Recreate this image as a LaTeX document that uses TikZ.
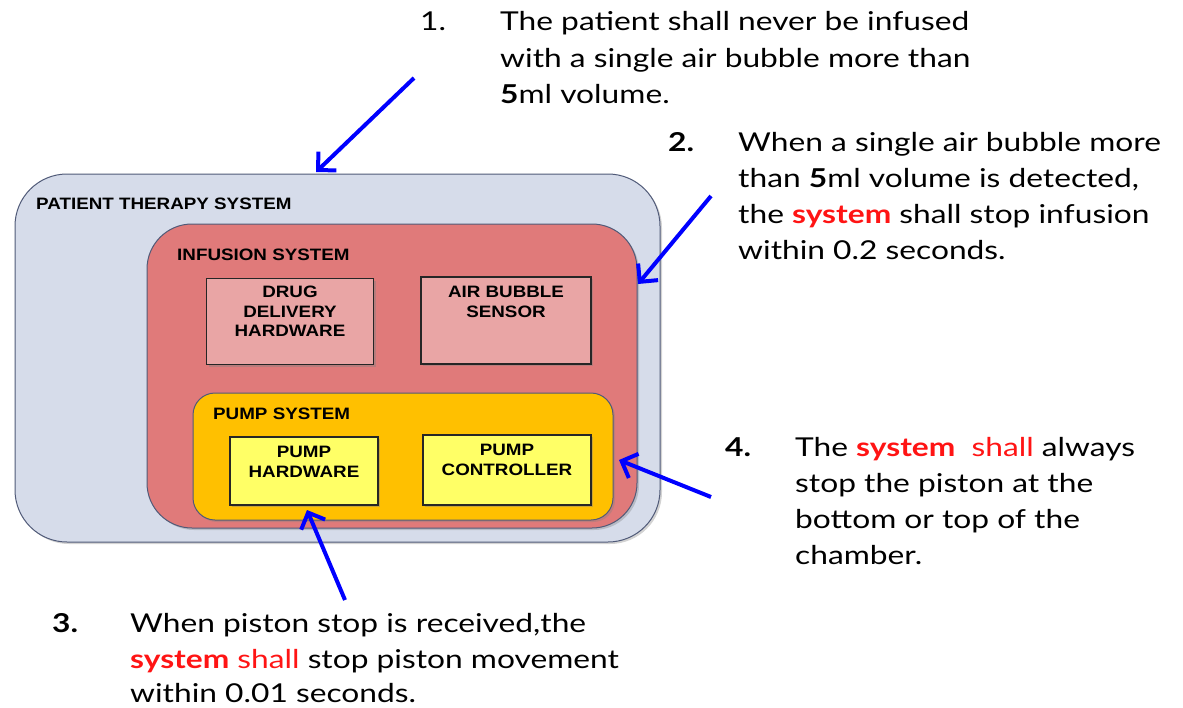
\documentclass[tikz,border=0pt]{standalone}
\usepackage{fontspec}
\setmainfont[FakeStretch=1.22]{Lato}
\newfontfamily\boxfont[FakeStretch=1.14]{Liberation Sans}
\usetikzlibrary{arrows.meta,shadows}
\definecolor{ptsfill}{RGB}{214,220,234}
\definecolor{ptsdraw}{RGB}{80,90,120}
\definecolor{infill}{RGB}{224,122,122}
\definecolor{pinkbox}{RGB}{233,165,165}
\definecolor{pumpfill}{RGB}{255,192,0}
\definecolor{yellowbox}{RGB}{255,255,102}
\definecolor{reqred}{RGB}{255,20,20}
\definecolor{arrowblue}{RGB}{0,0,255}
\begin{document}
\begin{tikzpicture}[x=1pt,y=-1pt,
  container/.style={draw=ptsdraw,line width=1pt,inner sep=0pt,
    drop shadow={shadow xshift=2pt,shadow yshift=-2pt,opacity=0.35}},
  subbox/.style={draw=black!85,line width=1.4pt,inner sep=0pt,
    drop shadow={shadow xshift=2pt,shadow yshift=-2pt,opacity=0.4}},
  boxlabel/.style={font=\boxfont\bfseries\fontsize{16.5}{19.5}\selectfont,inner sep=0pt,align=center,anchor=north},
  grouplabel/.style={font=\boxfont\bfseries\fontsize{16.5}{19.5}\selectfont,inner sep=0pt,anchor=base west},
  req/.style={font=\fontsize{26}{36}\selectfont,inner sep=0pt,anchor=base west},
  reqarrow/.style={draw=arrowblue,line width=4pt,-{Straight Barb[length=13pt,width=26pt,line width=4pt]}}]
\useasboundingbox (0,0) rectangle (1183,707);
% containers
\node[container,fill=ptsfill,rounded corners=52pt,minimum width=645pt,minimum height=368pt] (pts) at (337.5,358) {};
\node[container,fill=infill,rounded corners=45pt,minimum width=490pt,minimum height=304pt] (inf) at (392,376) {};
\node[container,fill=pumpfill,rounded corners=22pt,minimum width=420pt,minimum height=127pt] (pump) at (403,456.5) {};
% boxes
\node[subbox,fill=pinkbox,minimum width=167pt,minimum height=86pt] (drug) at (290,321.5) {};
\node[subbox,fill=pinkbox,minimum width=170pt,minimum height=87pt] (abs) at (506,320.5) {};
\node[subbox,fill=yellowbox,minimum width=148pt,minimum height=68pt] (phw) at (304,471) {};
\node[subbox,fill=yellowbox,minimum width=168pt,minimum height=70pt] (pctl) at (507,470) {};
% labels
\node[grouplabel] (ptsl) at (36,209) {PATIENT THERAPY SYSTEM};
\node[grouplabel] (infl) at (177,260) {INFUSION SYSTEM};
\node[grouplabel] (pumpl) at (213,419) {PUMP SYSTEM};
\node[boxlabel] (drugl) at (290,286) {DRUG\\DELIVERY\\HARDWARE};
\node[boxlabel] (absl) at (506,286) {AIR BUBBLE\\SENSOR};
\node[boxlabel] (phwl) at (304,446) {PUMP\\HARDWARE};
\node[boxlabel] (pctll) at (507,444) {PUMP\\CONTROLLER};
% requirement 1
\node[req] (n1) at (420,30) {1.};
\node[req] (r1a) at (500,30) {The patient shall never be infused};
\node[req] (r1b) at (500,67) {with a single air bubble more than};
\node[req] (r1c) at (500,103) {\textbf{5}ml volume.};
% requirement 2
\node[req] (n2) at (668,151) {\textbf{2.}};
\node[req] (r2a) at (738,151) {When a single air bubble more};
\node[req] (r2b) at (738,187) {than \textbf{5}ml volume is detected,};
\node[req] (r2c) at (738,223) {the \textcolor{reqred}{\textbf{system}} shall stop infusion};
\node[req] (r2d) at (738,259) {within 0.2 seconds.};
% requirement 3
\node[req] (n3) at (52,632) {\textbf{3.}};
\node[req] (r3a) at (130,632) {When piston stop is received,the};
\node[req] (r3b) at (130,668) {\textcolor{reqred}{\textbf{system} shall} stop piston movement};
\node[req] (r3c) at (130,702) {within 0.01 seconds.};
% requirement 4
\node[req] (n4) at (725,456) {\textbf{4.}};
\node[req] (r4a) at (795,456) {The \textcolor{reqred}{\textbf{system}\ \ shall} always};
\node[req] (r4b) at (795,492) {stop the piston at the};
\node[req] (r4c) at (795,528) {bottom or top of the};
\node[req] (r4d) at (795,564) {chamber.};
% arrows
\coordinate (t1) at (414,78);
\coordinate (h1) at (316,172);
\coordinate (t2) at (711,196);
\coordinate (h2) at (638,284);
\coordinate (t3) at (345,600);
\coordinate (h3) at (307,510);
\coordinate (t4) at (711,497);
\coordinate (h4) at (619,460);
\draw[reqarrow] (t1) -- (h1);
\draw[reqarrow] (t2) -- (h2);
\draw[reqarrow] (t3) -- (h3);
\draw[reqarrow] (t4) -- (h4);
\end{tikzpicture}
\end{document}
